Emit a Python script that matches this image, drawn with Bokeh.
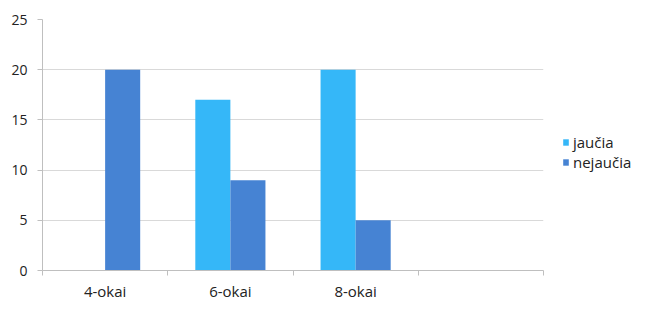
from bokeh.plotting import figure
from bokeh.models import (ColumnDataSource, Range1d, FixedTicker, Legend, LegendItem)
from bokeh.transform import dodge
from bokeh.embed import file_html
from bokeh.resources import INLINE

categories = ["4-okai", "6-okai", "8-okai", ""]
jaucia = [0, 17, 20, 0]
nejaucia = [20, 9, 5, 0]
series_names = ["jaučia", "nejaučia"]
y_ticks = [0, 5, 10, 15, 20, 25]

FONT = "Open Sans"
C1 = "#35B7F8"
C2 = "#4683D3"

centers = [i + 0.5 for i in range(len(categories))]
src = ColumnDataSource(dict(x=centers, cat=categories, j=jaucia, n=nejaucia))

p = figure(frame_width=501, frame_height=251, output_backend="svg", toolbar_location=None,
           x_range=Range1d(0, len(categories)), y_range=Range1d(0, 25),
           min_border_left=42, min_border_right=103, min_border_top=19, min_border_bottom=41,
           x_axis_location="below")
p.outline_line_color = None
p.background_fill_color = "white"
p.border_fill_color = "white"

r1 = p.vbar(x=dodge("x", -0.14, range=p.x_range), top="j", width=0.28, source=src,
            fill_color=C1, line_color=None)
r2 = p.vbar(x=dodge("x", 0.14, range=p.x_range), top="n", width=0.28, source=src,
            fill_color=C2, line_color=None)

# x axis
xa = p.xaxis[0]
xa.ticker = FixedTicker(ticks=centers, minor_ticks=list(range(len(categories) + 1)))
xa.major_label_overrides = {c: lab for c, lab in zip(centers, categories)}
xa.major_tick_out = 0
xa.major_tick_in = 0
xa.minor_tick_out = 5
xa.minor_tick_in = 0
xa.minor_tick_line_color = "#BFBFBF"
xa.axis_line_color = "#BFBFBF"
xa.major_label_text_font = FONT
xa.major_label_text_font_size = "15px"
xa.major_label_text_color = "#222222"
xa.major_label_standoff = 5

# y axis
ya = p.yaxis[0]
ya.ticker = FixedTicker(ticks=y_ticks, minor_ticks=[])
ya.major_tick_out = 5
ya.major_tick_in = 0
ya.major_tick_line_color = "#BFBFBF"
ya.axis_line_color = "#BFBFBF"
ya.major_label_text_font = FONT
ya.major_label_text_font_size = "14px"
ya.major_label_text_color = "#222222"
ya.major_label_standoff = 10

p.xgrid.visible = False
p.ygrid.ticker = FixedTicker(ticks=y_ticks)
p.ygrid.grid_line_color = "#D9D9D9"
p.ygrid.grid_line_width = 1

legend = Legend(items=[LegendItem(label=series_names[0], renderers=[r1]),
                       LegendItem(label=series_names[1], renderers=[r2])],
                location=(19, 98))
legend.border_line_color = None
legend.background_fill_alpha = 0
legend.padding = 0
legend.margin = 0
legend.spacing = 0
legend.glyph_width = 7
legend.glyph_height = 8
legend.label_height = 20
legend.label_standoff = 4
legend.label_text_font = FONT
legend.label_text_font_size = "15px"
legend.label_text_color = "#222222"
p.add_layout(legend, "right")

open("out.html", "w").write(file_html(p, INLINE))
